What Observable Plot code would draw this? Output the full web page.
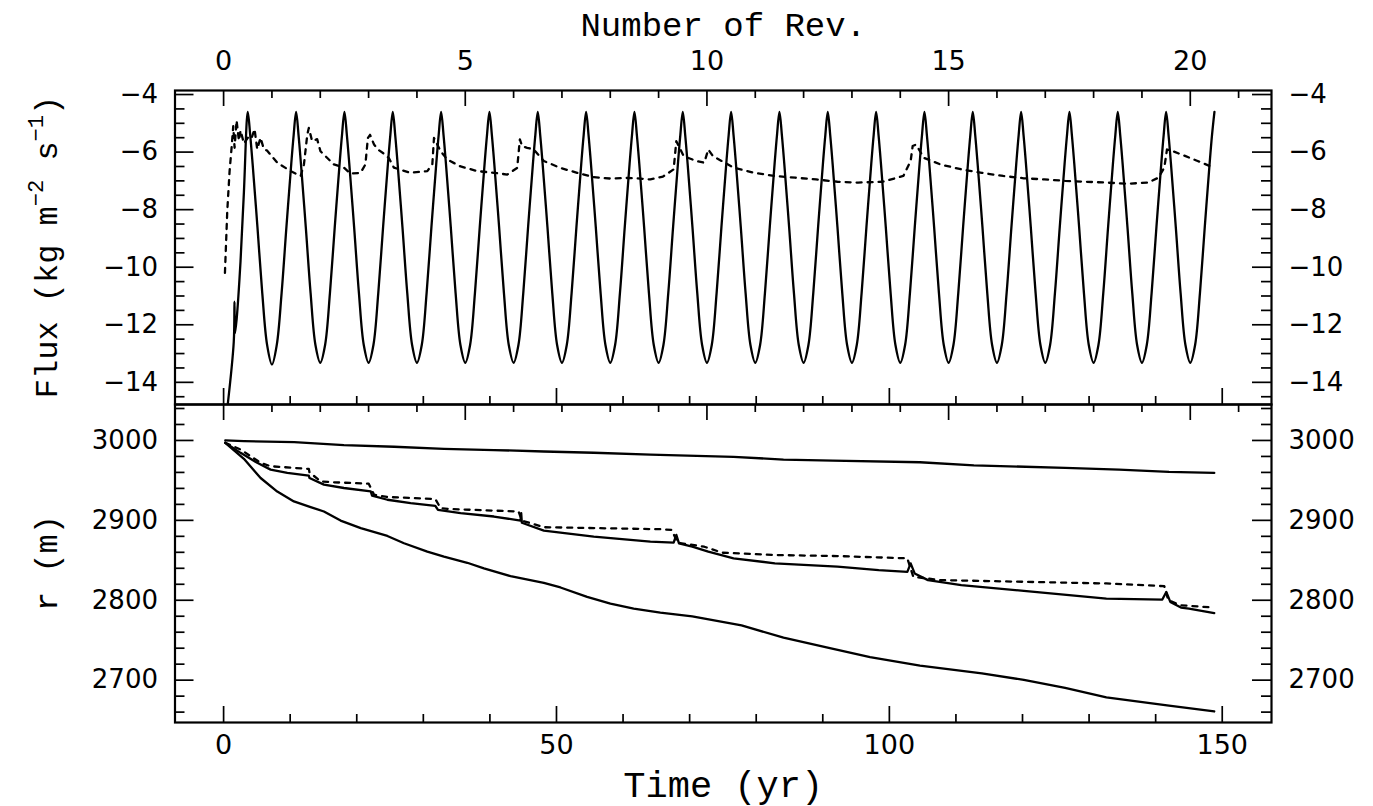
<!DOCTYPE html>
<html>
<head>
<meta charset="utf-8">
<script src="https://cdn.jsdelivr.net/npm/d3@7"></script>
<script src="https://cdn.jsdelivr.net/npm/@observablehq/plot@0.6"></script>
<style>
html,body{margin:0;padding:0;background:#fff;overflow:hidden;}
#chart{position:relative;width:1373px;height:806px;}
#chart svg{position:absolute;left:0;overflow:visible;}
</style>
</head>
<body>
<div id="chart"></div>
<script>
// ---------- axes / ticks ----------
const P = 7.26; // years per revolution (top axis vs bottom axis)
const timeDomain = [-7.3, 157.4];
const fluxDomain = [-14.77, -3.86];
const rDomain = [2647, 3045];
const timeMajor = [0, 50, 100, 150];
const timeMinor = [10, 20, 30, 40, 60, 70, 80, 90, 110, 120, 130, 140];
const revMajor = [0, 5, 10, 15, 20];
const revMinor = [1, 2, 3, 4, 6, 7, 8, 9, 11, 12, 13, 14, 16, 17, 18, 19, 21];
const fluxMajor = [-4, -6, -8, -10, -12, -14];
const fluxMinor = [-4.5, -5, -5.5, -6.5, -7, -7.5, -8.5, -9, -9.5, -10.5, -11, -11.5, -12.5, -13, -13.5, -14.5];
const rMajor = [2700, 2800, 2900, 3000];
const rMinor = [2660, 2680, 2720, 2740, 2760, 2780, 2820, 2840, 2860, 2880, 2920, 2940, 2960, 2980, 3020, 3040];

// ---------- top panel: log flux ----------
// solid curve, read against the "Number of Rev." axis
const fluxSolidRev = [
  0.07, 0.21, 0.225, 0.235, 0.27, 0.35, 0.42,
  0.5, 0.55, 0.6, 0.7, 0.8, 0.9, 1, 1.1, 1.2, 1.3, 1.4, 1.45,
  1.5, 1.55, 1.6, 1.7, 1.8, 1.9, 2, 2.1, 2.2, 2.3, 2.4, 2.45,
  2.5, 2.55, 2.6, 2.7, 2.8, 2.9, 3, 3.1, 3.2, 3.3, 3.4, 3.45,
  3.5, 3.55, 3.6, 3.7, 3.8, 3.9, 4, 4.1, 4.2, 4.3, 4.4, 4.45,
  4.5, 4.55, 4.6, 4.7, 4.8, 4.9, 5, 5.1, 5.2, 5.3, 5.4, 5.45,
  5.5, 5.55, 5.6, 5.7, 5.8, 5.9, 6, 6.1, 6.2, 6.3, 6.4, 6.45,
  6.5, 6.55, 6.6, 6.7, 6.8, 6.9, 7, 7.1, 7.2, 7.3, 7.4, 7.45,
  7.5, 7.55, 7.6, 7.7, 7.8, 7.9, 8, 8.1, 8.2, 8.3, 8.4, 8.45,
  8.5, 8.55, 8.6, 8.7, 8.8, 8.9, 9, 9.1, 9.2, 9.3, 9.4, 9.45,
  9.5, 9.55, 9.6, 9.7, 9.8, 9.9, 10, 10.1, 10.2, 10.3, 10.4, 10.45,
  10.5, 10.55, 10.6, 10.7, 10.8, 10.9, 11, 11.1, 11.2, 11.3, 11.4, 11.45,
  11.5, 11.55, 11.6, 11.7, 11.8, 11.9, 12, 12.1, 12.2, 12.3, 12.4, 12.45,
  12.5, 12.55, 12.6, 12.7, 12.8, 12.9, 13, 13.1, 13.2, 13.3, 13.4, 13.45,
  13.5, 13.55, 13.6, 13.7, 13.8, 13.9, 14, 14.1, 14.2, 14.3, 14.4, 14.45,
  14.5, 14.55, 14.6, 14.7, 14.8, 14.9, 15, 15.1, 15.2, 15.3, 15.4, 15.45,
  15.5, 15.55, 15.6, 15.7, 15.8, 15.9, 16, 16.1, 16.2, 16.3, 16.4, 16.45,
  16.5, 16.55, 16.6, 16.7, 16.8, 16.9, 17, 17.1, 17.2, 17.3, 17.4, 17.45,
  17.5, 17.55, 17.6, 17.7, 17.8, 17.9, 18, 18.1, 18.2, 18.3, 18.4, 18.45,
  18.5, 18.55, 18.6, 18.7, 18.8, 18.9, 19, 19.1, 19.2, 19.3, 19.4, 19.45,
  19.5, 19.55, 19.6, 19.7, 19.8, 19.9, 20, 20.1, 20.2, 20.3, 20.4, 20.45,
  20.5
];
const fluxSolidLog = [
  -15, -12.6, -11.2, -12.3, -11.8, -9.8, -7.4,
  -4.6, -5.4, -6.4, -8.6, -10.9, -12.7, -13.38, -12.7, -10.9, -8.6, -6.4, -5.4,
  -4.6, -5.4, -6.4, -8.6, -10.9, -12.7, -13.32, -12.7, -10.9, -8.6, -6.4, -5.4,
  -4.6, -5.4, -6.4, -8.6, -10.9, -12.7, -13.32, -12.7, -10.9, -8.6, -6.4, -5.4,
  -4.6, -5.4, -6.4, -8.6, -10.9, -12.7, -13.32, -12.7, -10.9, -8.6, -6.4, -5.4,
  -4.6, -5.4, -6.4, -8.6, -10.9, -12.7, -13.32, -12.7, -10.9, -8.6, -6.4, -5.4,
  -4.6, -5.4, -6.4, -8.6, -10.9, -12.7, -13.32, -12.7, -10.9, -8.6, -6.4, -5.4,
  -4.6, -5.4, -6.4, -8.6, -10.9, -12.7, -13.32, -12.7, -10.9, -8.6, -6.4, -5.4,
  -4.6, -5.4, -6.4, -8.6, -10.9, -12.7, -13.32, -12.7, -10.9, -8.6, -6.4, -5.4,
  -4.6, -5.4, -6.4, -8.6, -10.9, -12.7, -13.32, -12.7, -10.9, -8.6, -6.4, -5.4,
  -4.6, -5.4, -6.4, -8.6, -10.9, -12.7, -13.32, -12.7, -10.9, -8.6, -6.4, -5.4,
  -4.6, -5.4, -6.4, -8.6, -10.9, -12.7, -13.32, -12.7, -10.9, -8.6, -6.4, -5.4,
  -4.6, -5.4, -6.4, -8.6, -10.9, -12.7, -13.32, -12.7, -10.9, -8.6, -6.4, -5.4,
  -4.6, -5.4, -6.4, -8.6, -10.9, -12.7, -13.32, -12.7, -10.9, -8.6, -6.4, -5.4,
  -4.6, -5.4, -6.4, -8.6, -10.9, -12.7, -13.32, -12.7, -10.9, -8.6, -6.4, -5.4,
  -4.6, -5.4, -6.4, -8.6, -10.9, -12.7, -13.32, -12.7, -10.9, -8.6, -6.4, -5.4,
  -4.6, -5.4, -6.4, -8.6, -10.9, -12.7, -13.32, -12.7, -10.9, -8.6, -6.4, -5.4,
  -4.6, -5.4, -6.4, -8.6, -10.9, -12.7, -13.32, -12.7, -10.9, -8.6, -6.4, -5.4,
  -4.6, -5.4, -6.4, -8.6, -10.9, -12.7, -13.32, -12.7, -10.9, -8.6, -6.4, -5.4,
  -4.6, -5.4, -6.4, -8.6, -10.9, -12.7, -13.32, -12.7, -10.9, -8.6, -6.4, -5.4,
  -4.6, -5.4, -6.4, -8.6, -10.9, -12.7, -13.32, -12.7, -10.9, -8.6, -6.4, -5.4,
  -4.6
];
// dashed curve, read against Time (yr)
const fluxDashYr = [0.2, 0.55, 0.9, 1.2, 1.45, 1.65, 1.95, 2.3, 2.55, 3.05, 3.65, 4.15, 4.65, 5.05, 5.55, 6.05, 6.55, 8.06, 10.06, 11.57, 12.07, 12.57, 12.8, 13.3, 14.05, 14.55, 16.57, 18.07, 19.07, 20.57, 21.3, 21.67, 22, 22.6, 23.3, 24.05, 24.8, 25.58, 28.08, 30.6, 31.35, 31.6, 31.85, 32.6, 33.6, 35.6, 38.1, 40.6, 42.6, 44.1, 44.5, 44.85, 45.6, 46.6, 48.1, 50.6, 53.1, 55.6, 58.1, 60.6, 62.6, 64.1, 66, 67.6, 68, 68.5, 69.1, 71, 72.2, 72.8, 73.5, 76.6, 79.7, 82.8, 85.9, 89, 92.2, 95.3, 99, 102.1, 103.2, 103.5, 104, 105.2, 107.7, 110.8, 113.9, 117.1, 120.2, 123.3, 126.4, 129.5, 132.6, 135.7, 138.9, 140.4, 141.3, 141.7, 142.6, 144.5, 146.3, 148.2];
const fluxDashLog = [-10.2, -8.05, -6.66, -5.85, -5.1, -5.85, -4.9, -5.6, -5.25, -5.7, -5.5, -5.55, -5.2, -5.9, -5.5, -5.9, -5.95, -6.37, -6.66, -6.83, -6.43, -5.39, -5.16, -5.62, -5.55, -5.97, -6.43, -6.54, -6.75, -6.72, -6.43, -5.51, -5.4, -5.74, -5.93, -6.05, -6.2, -6.54, -6.72, -6.66, -6.43, -5.51, -5.62, -5.97, -6.26, -6.5, -6.66, -6.72, -6.78, -6.55, -5.56, -5.8, -5.85, -5.91, -6.31, -6.55, -6.72, -6.87, -6.92, -6.9, -6.92, -6.95, -6.85, -6.6, -5.62, -5.85, -6.14, -6.31, -6.37, -5.91, -6.14, -6.54, -6.72, -6.83, -6.89, -6.95, -7.03, -7.06, -7.03, -6.83, -6.31, -5.79, -5.74, -6.2, -6.43, -6.6, -6.72, -6.83, -6.91, -6.95, -7.0, -7.03, -7.06, -7.1, -7.06, -6.89, -6.54, -5.91, -5.97, -6.14, -6.31, -6.49];

// ---------- bottom panel: r (m) ----------
const rTopYr = [0.25, 3.05, 10.6, 18.07, 25.6, 33.1, 40.6, 48.1, 55.6, 64.1, 76.6, 84.1, 91.5, 104.6, 112.7, 126.4, 134.5, 142, 148.8];
const rTopM = [3000, 2999.2, 2997.9, 2994.2, 2992.1, 2989.5, 2988, 2986.2, 2984.6, 2982.3, 2979.5, 2976.1, 2974.8, 2972.7, 2968.9, 2965.6, 2963.5, 2960.6, 2959.4];
const rMidYr = [0.25, 2.55, 5.05, 7.06, 9.57, 12.8, 12.9, 15.07, 18.07, 22.1, 22.3, 24.6, 28.1, 31.8, 32.2, 35.6, 40.6, 44.6, 44.7, 44.8, 48.1, 55.6, 64.1, 67.6, 68, 68.4, 70.4, 72.8, 76.6, 82.8, 92.2, 98.4, 102.7, 103.2, 103.8, 105.8, 110.8, 120.2, 132.6, 141, 141.6, 142.2, 143.8, 145, 148.8];
const rMidM = [2997.1, 2984.5, 2972, 2963.5, 2959.4, 2956, 2953, 2944.7, 2940.5, 2936.2, 2931, 2925.8, 2921.6, 2918.2, 2913, 2909, 2904.8, 2899.7, 2909, 2897, 2887.2, 2879.6, 2873.3, 2872.1, 2881.8, 2871.3, 2867, 2860.8, 2852.5, 2846.2, 2842, 2837.7, 2835.6, 2846.2, 2833.6, 2825.2, 2818.9, 2811.7, 2802.1, 2800.9, 2810.4, 2797.9, 2790.8, 2789.6, 2784];
const rDashYr = [0.25, 2.55, 5.56, 7.06, 12.8, 12.9, 14.57, 16.57, 21.8, 22.6, 24.6, 31.8, 32.6, 34.1, 44.3, 44.8, 48.1, 65.6, 67.3, 68.2, 72.2, 74.9, 82.8, 92.2, 102.7, 103.6, 107.7, 120.2, 132.6, 141.3, 141.9, 143.8, 148.8];
const rDashM = [2997.1, 2988.7, 2972, 2967.7, 2964.4, 2960.1, 2948.8, 2947.6, 2945.9, 2932.1, 2929.2, 2926.7, 2915.3, 2914.1, 2911.1, 2899.7, 2891.4, 2888.9, 2888, 2872.1, 2867, 2859.5, 2856.6, 2855.3, 2852.5, 2829.4, 2825.2, 2823.1, 2821, 2817.6, 2800, 2793.7, 2790.8];
const rLowYr = [0.25, 3.05, 5.56, 8.06, 10.56, 13.07, 15.07, 17.57, 20.6, 24.6, 27.1, 30.6, 33.1, 36.6, 39.1, 43.1, 48.1, 50.6, 54.6, 58.1, 61.6, 65.6, 70.4, 77.8, 84.1, 90.9, 97.1, 104.6, 113.9, 120.2, 126.4, 132.6, 142, 148.8];
const rLowM = [2997, 2977, 2953, 2936, 2923.7, 2916.6, 2911.1, 2899.7, 2890.2, 2880.5, 2871.3, 2860.8, 2854.5, 2846.9, 2839.9, 2830.2, 2821.8, 2816, 2804.2, 2795.8, 2789.6, 2784.5, 2779.9, 2768.6, 2753.1, 2740.5, 2728.7, 2718.2, 2708.6, 2700.3, 2690.2, 2678.4, 2668, 2660.8];

// ---------- build ----------
const zip = (xs, ys) => xs.map((x, i) => ({t: x, v: ys[i]}));
const fluxSolid = fluxSolidRev.map((r, i) => ({t: r * P, v: fluxSolidLog[i]}));
const fluxDash = zip(fluxDashYr, fluxDashLog);

const W = 1373, ML = 174.5, MR = 102;
const TOP_Y0 = 90, MID_Y = 404, BOT_Y1 = 722;
const FW = W - ML - MR;
const FH1 = MID_Y - TOP_Y0, FH2 = BOT_Y1 - MID_Y;
const tickFont = "DejaVu Sans", titleFont = "Liberation Mono";
const ink = "#000";
const LW = 2.3;
const minus = d => d < 0 ? "\u2212" + (-d) : String(d);

function edgeTicks(FH, yMaj, yMin) {
  const s = {stroke: ink, strokeWidth: 1.7};
  return [
    Plot.tickX(revMajor.map(r => r * P), {...s, insetBottom: FH - 16}),
    Plot.tickX(revMinor.map(r => r * P), {...s, insetBottom: FH - 8}),
    Plot.tickX(timeMajor, {...s, insetTop: FH - 16}),
    Plot.tickX(timeMinor, {...s, insetTop: FH - 8}),
    Plot.tickY(yMaj, {...s, insetRight: FW - 19}),
    Plot.tickY(yMin, {...s, insetRight: FW - 10}),
    Plot.tickY(yMaj, {...s, insetLeft: FW - 19}),
    Plot.tickY(yMin, {...s, insetLeft: FW - 10})
  ];
}
function yLabels(vals) {
  const o = {y: d => d, text: minus, fontSize: 26, fontFamily: tickFont, fill: ink, lineAnchor: "middle"};
  return [
    Plot.text(vals, {...o, frameAnchor: "left", dx: -17, textAnchor: "end"}),
    Plot.text(vals, {...o, frameAnchor: "right", dx: 17, textAnchor: "start"})
  ];
}

const topPlot = Plot.plot({
  width: W, height: MID_Y,
  marginTop: TOP_Y0, marginBottom: 0, marginLeft: ML, marginRight: MR,
  x: {domain: timeDomain, axis: null},
  y: {domain: fluxDomain, axis: null},
  style: {background: "transparent", overflow: "visible"},
  marks: [
    ...edgeTicks(FH1, fluxMajor, fluxMinor),
    Plot.line(fluxDash, {x: "t", y: "v", stroke: ink, strokeWidth: LW, strokeDasharray: "5,6", clip: true}),
    Plot.line(fluxSolid, {x: "t", y: "v", stroke: ink, strokeWidth: LW, curve: "catmull-rom", clip: true}),
    Plot.frame({stroke: ink, strokeWidth: 2.2}),
    Plot.text(revMajor, {x: d => d * P, text: d => String(d), frameAnchor: "top", lineAnchor: "middle", dy: -29, fontSize: 27, fontFamily: tickFont, fill: ink}),
    Plot.text(["Number of Rev."], {frameAnchor: "top", lineAnchor: "middle", dy: -65, fontSize: 34, fontFamily: titleFont, fill: ink}),
    ...yLabels(fluxMajor)
  ]
});

const botPlot = Plot.plot({
  width: W, height: 806 - MID_Y,
  marginTop: 0, marginBottom: 806 - BOT_Y1, marginLeft: ML, marginRight: MR,
  x: {domain: timeDomain, axis: null},
  y: {domain: rDomain, axis: null},
  style: {background: "transparent", overflow: "visible"},
  marks: [
    ...edgeTicks(FH2, rMajor, rMinor),
    Plot.line(zip(rTopYr, rTopM), {x: "t", y: "v", stroke: ink, strokeWidth: LW}),
    Plot.line(zip(rDashYr, rDashM), {x: "t", y: "v", stroke: ink, strokeWidth: LW, strokeDasharray: "5,6"}),
    Plot.line(zip(rMidYr, rMidM), {x: "t", y: "v", stroke: ink, strokeWidth: LW}),
    Plot.line(zip(rLowYr, rLowM), {x: "t", y: "v", stroke: ink, strokeWidth: LW}),
    Plot.frame({stroke: ink, strokeWidth: 2.2}),
    Plot.text(timeMajor, {x: d => d, text: d => String(d), frameAnchor: "bottom", lineAnchor: "middle", dy: 23, fontSize: 27, fontFamily: tickFont, fill: ink}),
    Plot.text(["Time (yr)"], {frameAnchor: "bottom", lineAnchor: "middle", dy: 63, fontSize: 37, fontFamily: titleFont, fill: ink}),
    ...yLabels(rMajor)
  ]
});

const chart = document.getElementById("chart");
topPlot.style.top = "0px";
botPlot.style.top = MID_Y + "px";
chart.appendChild(topPlot);
chart.appendChild(botPlot);

// rotated y-axis titles with superscripts
const fluxTitle = d3.select(topPlot).append("text")
  .attr("transform", `translate(57,${(TOP_Y0 + MID_Y) / 2}) rotate(-90)`)
  .attr("text-anchor", "middle").attr("font-family", titleFont).attr("font-size", 32).attr("fill", ink);
fluxTitle.append("tspan").text("Flux (kg m");
fluxTitle.append("tspan").attr("dy", -14).attr("font-size", 22).text("\u22122");
fluxTitle.append("tspan").attr("dy", 14).text(" s");
fluxTitle.append("tspan").attr("dy", -14).attr("font-size", 22).text("\u22121");
fluxTitle.append("tspan").attr("dy", 14).text(")");

d3.select(botPlot).append("text")
  .attr("transform", `translate(57,${(BOT_Y1 - MID_Y) / 2}) rotate(-90)`)
  .attr("text-anchor", "middle").attr("font-family", titleFont).attr("font-size", 32).attr("fill", ink)
  .text("r (m)");
</script>
</body>
</html>
